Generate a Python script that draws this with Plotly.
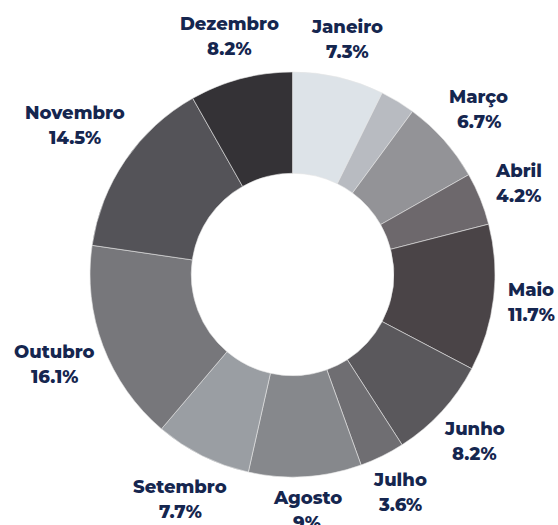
import math
import plotly.graph_objects as go

months = ["Janeiro", "Fevereiro", "Março", "Abril", "Maio", "Junho", "Julho",
          "Agosto", "Setembro", "Outubro", "Novembro", "Dezembro"]
values = [7.3, 2.8, 6.7, 4.2, 11.7, 8.2, 3.6, 9, 7.7, 16.1, 14.5, 8.2]
show_label = [True, False, True, True, True, True, True, True, True, True, True, True]
colors = ["#dde3e8", "#b8bbc1", "#939397", "#6d686c", "#4a4447", "#5a585c",
          "#6f6e72", "#86888c", "#9a9ea3", "#77777b", "#545358", "#343236"]

W, H = 558, 525
cx, cy, R = 292.5, 274.5, 202.5
label_gap = 215
line_gap = 25
block_h = 40
text_color = "#15264f"
font_size = 18


def text_width(t):
    narrow = set("ijlJIrtf.1 ")
    wide = set("mwMW%")
    w = 0
    for ch in t:
        if ch in narrow:
            w += 6.5
        elif ch in wide:
            w += 16
        else:
            w += 11.2
    return w


fig = go.Figure(go.Pie(
    labels=months,
    values=values,
    sort=False,
    direction="clockwise",
    rotation=0,
    hole=0.5,
    marker=dict(colors=colors, line=dict(color="#e6e6e6", width=0.6)),
    textinfo="none",
    hoverinfo="label+percent",
    domain=dict(x=[(cx - R) / W, (cx + R) / W], y=[1 - (cy + R) / H, 1 - (cy - R) / H]),
    showlegend=False,
))

total = sum(values)
cum = 0
annotations = []
font = dict(family="Montserrat, 'Open Sans', sans-serif", size=font_size,
            color=text_color, weight=800)
for m, v, show in zip(months, values, show_label):
    mid = (cum + v / 2) / total
    cum += v
    if not show:
        continue
    pct = f"{v:g}%"
    ang = 2 * math.pi * mid
    s, c = math.sin(ang), math.cos(ang)
    w = max(text_width(m), text_width(pct))
    r = label_gap + abs(s) * w / 2 + abs(c) * block_h / 2
    px = cx + r * s
    py = cy - r * c
    for txt, off in ((m, -line_gap / 2), (pct, line_gap / 2)):
        annotations.append(dict(
            x=px / W, y=1 - (py + off) / H, xref="paper", yref="paper",
            text=txt, showarrow=False,
            xanchor="center", yanchor="middle", align="center",
            font=font,
        ))

fig.update_layout(
    width=W, height=H,
    margin=dict(l=0, r=0, t=0, b=0),
    paper_bgcolor="white",
    plot_bgcolor="white",
    annotations=annotations,
)

fig.write_html("out.html", config={"displayModeBar": False},
               post_script="document.body.style.margin='0px';")
